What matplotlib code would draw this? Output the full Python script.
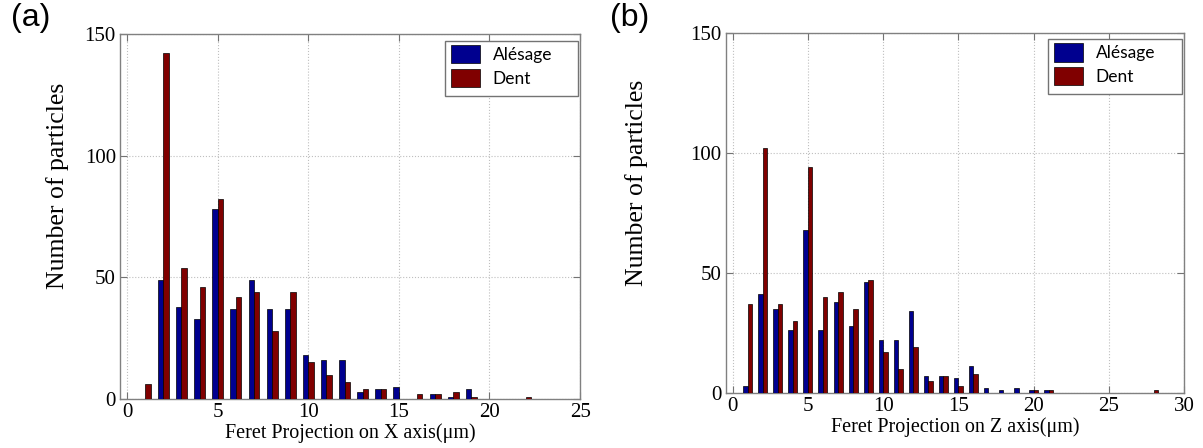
import matplotlib
matplotlib.use("Agg")
import matplotlib.pyplot as plt
from matplotlib.patches import Rectangle
import numpy as np

# Data (counts per 1 um bin)
bins_x = np.arange(1, 23)
alesage_x = [0, 49, 38, 33, 78, 37, 49, 37, 37, 18, 16, 16, 3, 4, 5, 0, 2, 1, 4, 0, 0, 0]
dent_x = [6, 142, 54, 46, 82, 42, 44, 28, 44, 15, 10, 7, 4, 4, 0, 2, 2, 3, 1, 0, 0, 1]

bins_z = np.arange(1, 29)
alesage_z = [3, 41, 35, 26, 68, 26, 38, 28, 46, 22, 22, 34, 7, 7, 6, 11, 2, 1, 2, 1, 1, 0, 0, 0, 0, 0, 0, 0]
dent_z = [37, 102, 37, 30, 94, 40, 42, 35, 47, 17, 10, 19, 5, 7, 3, 8, 0, 0, 0, 1, 1, 0, 0, 0, 0, 0, 0, 1]

series_names = ["Alésage", "Dent"]
blue = "#00008F"
red = "#800000"
serif = "Liberation Serif"

fig = plt.figure(figsize=(12.03, 4.48), dpi=100)
ax_a = fig.add_axes([0.0998, 0.1094, 0.3824, 0.8147])
ax_b = fig.add_axes([0.6032, 0.1234, 0.3810, 0.8036])


def draw_panel(ax, bins, a_vals, d_vals, xmin, xmax, xticks, xlabel,
               ylab_x, leg_anchor, frame_box):
    w = 0.3
    ax.bar(bins - w / 2, a_vals, width=w, color=blue, edgecolor="black",
           linewidth=0.5, label=series_names[0], zorder=3)
    ax.bar(bins + w / 2, d_vals, width=w, color=red, edgecolor="black",
           linewidth=0.5, label=series_names[1], zorder=3)
    ax.set_xlim(xmin, xmax)
    ax.set_ylim(0, 150)
    ax.set_xticks(xticks)
    ax.set_yticks([0, 50, 100, 150])
    ax.grid(True, linestyle=":", color="0.75", linewidth=0.8, zorder=0)
    ax.tick_params(direction="in", top=True, right=True, length=5,
                   color="0.45", labelsize=15, pad=3)
    for lab in ax.get_xticklabels() + ax.get_yticklabels():
        lab.set_family(serif)
    for sp in ax.spines.values():
        sp.set_color("0.5")
        sp.set_linewidth(1.0)
    ax.set_xlabel(xlabel, family=serif, fontsize=14.5, labelpad=1)
    ax.set_ylabel("Number of particles", family=serif, fontsize=18.5)
    ax.yaxis.set_label_coords(ylab_x, 0.584)

    # legend box drawn by hand (the original has a wider frame than its text)
    x0, y0, x1, y1 = frame_box
    ax.add_patch(Rectangle((x0, y0), x1 - x0, y1 - y0, transform=ax.transAxes,
                           facecolor="white", edgecolor="0.45", linewidth=1.0,
                           zorder=5, clip_on=False))
    leg = ax.legend(loc="upper left", bbox_to_anchor=leg_anchor,
                    prop={"family": "Lato", "size": 12.5}, frameon=False,
                    handlelength=1.65, handleheight=1.25, labelspacing=0.3,
                    borderpad=0, handletextpad=0.75, borderaxespad=0)
    leg.set_zorder(6)


draw_panel(ax_a, bins_x, alesage_x, dent_x, -0.39, 25, [0, 5, 10, 15, 20, 25],
           "Feret Projection on X axis(μm)", -0.111, (0.7196, 0.9699),
           (0.7065, 0.830, 0.9957, 0.981))
draw_panel(ax_b, bins_z, alesage_z, dent_z, -0.47, 30, [0, 5, 10, 15, 20, 25, 30],
           "Feret Projection on Z axis(μm)", -0.170, (0.7163, 0.9706),
           (0.7033, 0.8297, 0.995, 0.9817))

fig.text(0.009, 0.993, "(a)", family="Liberation Sans", fontsize=23, va="top")
fig.text(0.507, 0.993, "(b)", family="Liberation Sans", fontsize=23, va="top")

fig.savefig("out.png", dpi=100)
